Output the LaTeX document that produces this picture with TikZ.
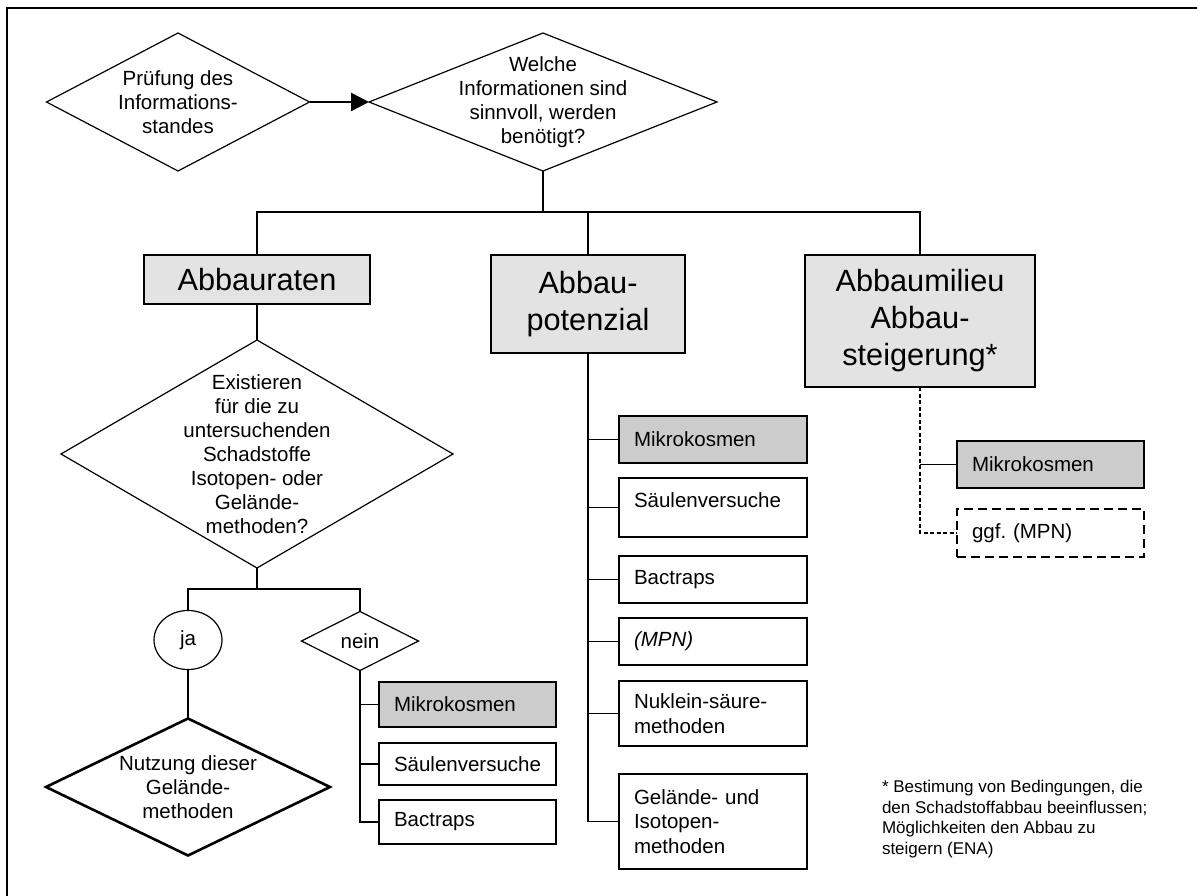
\documentclass[tikz,border=0pt]{standalone}
\usepackage{fontspec}
\setmainfont{Liberation Sans}
\usetikzlibrary{arrows.meta,shapes.geometric}
\definecolor{boxgray}{HTML}{E3E3E3}
\definecolor{midgray}{HTML}{CCCCCC}
\newcommand\diapath[2][]{\draw[#1] (#2.north) -- (#2.east) -- (#2.south) -- (#2.west) -- cycle;}
\frenchspacing
\begin{document}
\begin{tikzpicture}[x=1pt,y=-1pt,
  every node/.style={inner sep=0pt, outer sep=0pt},
  conn/.style={line width=1.4pt},
  med/.style={font=\fontsize{20.5}{24}\selectfont, align=center},
  big/.style={font=\fontsize{30.7}{37}\selectfont, align=center},
  diabox/.style={rectangle, med},
  bigbox/.style={rectangle, big, draw, line width=1.2pt, fill=boxgray},
  smallbox/.style={rectangle, draw, line width=2.6pt, inner xsep=15pt,
     font=\fontsize{20.5}{24.5}\selectfont, align=left},
  grayfill/.style={fill=midgray},
  dashbox/.style={rectangle, draw, line width=2.8pt, dash pattern=on 9pt off 5pt,
     inner xsep=15pt, font=\fontsize{20.5}{24.5}\selectfont, align=left},
  foot/.style={font=\fontsize{17}{20.7}\selectfont, align=left}]
\useasboundingbox (0,0) rectangle (1197,896);
% frame
\draw[line width=2pt] (6.7,896) -- (6.7,8.3) -- (1197,8.3);

% top diamonds
\node[diabox, minimum width=263, minimum height=138] (d1) at (178,102)
  {Prüfung des\\Informations-\\standes};
\diapath[line width=1.2pt]{d1}
\node[diabox, minimum width=348, minimum height=138] (d2) at (543,102)
  {Welche\\Informationen sind\\sinnvoll, werden\\benötigt?};
\diapath[line width=1.2pt]{d2}
\draw[line width=2.6pt, -{Triangle[length=18pt,width=18pt]}] (d1.east) -- (d2.west);

% level 1 boxes
\node[bigbox, minimum width=226, minimum height=49] (b1) at (257,279.5) {Abbauraten};
\node[bigbox, minimum width=194, minimum height=98] (b2) at (588,304) {Abbau-\\potenzial};
\node[bigbox, minimum width=230, minimum height=132] (b3) at (920,321) {Abbaumilieu\\Abbau-\\steigerung*};

\coordinate (hub) at (543,212);
\draw[line width=1.8pt] (d2.south) -- (hub);
\draw[conn] (b1.north) |- (hub) -| (b3.north);
\draw[conn] (hub) -| (b2.north);

% left column
\node[diabox, minimum width=392, minimum height=228] (d3) at (257,454)
  {Existieren\\für die zu\\untersuchenden\\Schadstoffe\\Isotopen- oder\\Gelände-\\methoden?};
\diapath[line width=1.2pt]{d3}
\draw[conn] (b1.south) -- (d3.north);

\node[ellipse, draw, line width=1.2pt, minimum width=68, minimum height=59, med] (ja) at (188,640) {\raisebox{3pt}{ja}};
\node[diabox, minimum width=117, minimum height=59] (nein) at (360,641) {nein};
\diapath[line width=1.2pt]{nein}
\coordinate (split) at (257,589);
\draw[conn] (d3.south) -- (split);
\draw[conn] (ja.north) |- (split) -| (nein.north);

\node[diabox, minimum width=284, minimum height=137] (nutz) at (188,787)
  {Nutzung dieser\\Gelände-\\methoden};
\diapath[line width=2.6pt]{nutz}
\draw[conn] (ja.south) -- (nutz.north);

\node[smallbox, grayfill, text width=147, minimum height=45] (l1) at (467.5,704.5) {Mikrokosmen};
\node[smallbox, text width=147, minimum height=42] (l2) at (467.5,764) {Säulenversuche};
\node[smallbox, text width=147, minimum height=44] (l3) at (467.5,822) {Bactraps};
\draw[conn] (nein.south) |- (l3.west);
\draw[conn] (nein.south |- l1.west) -- (l1.west);
\draw[conn] (nein.south |- l2.west) -- (l2.west);

% middle column
\node[smallbox, grayfill, text width=158, minimum height=47] (m1) at (713,439.5) {Mikrokosmen};
\node[smallbox, text width=158, minimum height=59] (m2) at (713,507.5) {\raisebox{14pt}{Säulenversuche}};
\node[smallbox, text width=158, minimum height=47] (m3) at (713,579.5) {Bactraps};
\node[smallbox, text width=158, minimum height=47] (m4) at (713,641.5) {\itshape (MPN)};
\node[smallbox, text width=158, minimum height=65] (m5) at (713,713.5) {Nuklein-säure-\\methoden};
\node[smallbox, text width=158, minimum height=95] (m6) at (713,821.5) {Gelände- und\\Isotopen-\\methoden};
\draw[conn] (b2.south) |- (m6.west);
\foreach \m in {m1,m2,m3,m4,m5}
  \draw[conn] (b2.south |- \m.west) -- (\m.west);

% right column
\node[smallbox, grayfill, text width=157, minimum height=47] (r1) at (1050.5,464.5) {Mikrokosmen};
\node[dashbox, text width=157, minimum height=48] (r2) at (1050.5,533) {ggf. (MPN)};
\draw[line width=1.4pt, dash pattern=on 4pt off 2.5pt] (b3.south) |- (r2.west);
\draw[conn] (b3.south |- r1.west) -- (r1.west);

% footnote
\node[foot, anchor=west] (fn) at (882,819)
  {* Bestimung von Bedingungen, die\\den Schadstoffabbau beeinflussen;\\Möglichkeiten den Abbau zu\\steigern (ENA)};
\end{tikzpicture}
\end{document}
